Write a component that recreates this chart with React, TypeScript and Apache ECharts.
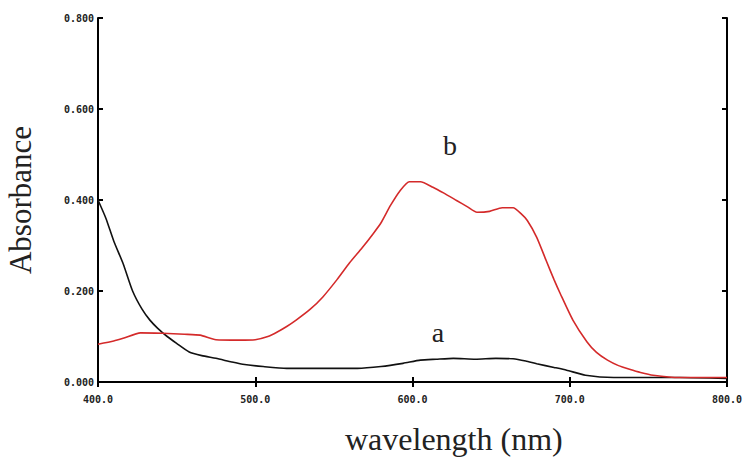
import React, { useEffect, useRef } from "react";
import * as echarts from "echarts";

const xTicks = [400, 500, 600, 700, 800];
const yTicks = [0, 0.2, 0.4, 0.6, 0.8];

const waveA = [400, 405, 410, 416, 422, 428, 433, 438, 444, 450, 458, 466, 475, 485, 492, 505, 520, 540, 565, 580, 594, 605, 615, 626, 640, 653, 664, 672, 679, 690, 698, 710, 728, 770, 800];
const absA = [0.400, 0.36, 0.31, 0.26, 0.20, 0.16, 0.136, 0.118, 0.100, 0.085, 0.066, 0.058, 0.052, 0.044, 0.039, 0.034, 0.030, 0.030, 0.030, 0.034, 0.041, 0.048, 0.050, 0.052, 0.050, 0.052, 0.051, 0.046, 0.040, 0.032, 0.026, 0.015, 0.010, 0.010, 0.008];

const waveB = [400, 410, 416, 427, 441, 455, 465, 475, 490, 500, 508, 514, 520, 526, 535, 543, 552, 560, 568, 575, 580, 586, 592, 598, 605, 613, 620, 628, 635, 641, 649, 657, 664, 669, 673, 679, 685, 690, 694, 702, 711, 717, 724, 731, 738, 745, 753, 770, 800];
const absB = [0.083, 0.090, 0.096, 0.108, 0.107, 0.105, 0.103, 0.093, 0.092, 0.093, 0.100, 0.110, 0.122, 0.136, 0.160, 0.187, 0.225, 0.262, 0.295, 0.326, 0.350, 0.388, 0.420, 0.440, 0.440, 0.428, 0.415, 0.399, 0.385, 0.373, 0.375, 0.383, 0.383, 0.370, 0.355, 0.318, 0.267, 0.225, 0.194, 0.136, 0.088, 0.065, 0.048, 0.036, 0.028, 0.021, 0.015, 0.010, 0.010];

const xTitle = "wavelength (nm)";
const yTitle = "Absorbance";
const labelA = "a";
const labelB = "b";

export default function App() {
  const ref = useRef<HTMLDivElement>(null);
  useEffect(() => {
    if (!ref.current) return;
    const chart = echarts.init(ref.current, undefined, { renderer: "svg" });
    const serif = "'Liberation Serif', 'Times New Roman', serif";
    const tickFont = {
      fontFamily: "'DejaVu Sans Mono', monospace",
      fontSize: 10,
      fontWeight: "bold" as const,
      color: "#222",
    };
    const axisLine = { show: true, lineStyle: { color: "#000", width: 2 } };
    const axisTick = { show: true, inside: true, length: 5, lineStyle: { color: "#000", width: 2 } };
    chart.setOption({
      animation: false,
      backgroundColor: "#fff",
      grid: { left: 98, right: 24, top: 18, bottom: 86, containLabel: false, outerBoundsMode: "none" },
      xAxis: [
        {
          type: "value",
          min: xTicks[0],
          max: xTicks[xTicks.length - 1],
          interval: 100,
          axisLine,
          axisTick,
          splitLine: { show: false },
          axisLabel: { ...tickFont, margin: 12, formatter: (v: number) => v.toFixed(1) },
        },
        {
          type: "value",
          position: "top",
          min: xTicks[0],
          max: xTicks[xTicks.length - 1],
          interval: 100,
          axisLine,
          axisTick,
          splitLine: { show: false },
          axisLabel: { show: false },
        },
      ],
      yAxis: [
        {
          type: "value",
          min: yTicks[0],
          max: yTicks[yTicks.length - 1],
          interval: 0.2,
          axisLine,
          axisTick,
          splitLine: { show: false },
          axisLabel: { ...tickFont, margin: 4, formatter: (v: number) => v.toFixed(3) },
          name: yTitle,
          nameLocation: "middle",
          nameGap: 62,
          nameRotate: 90,
          nameTextStyle: { fontFamily: serif, fontSize: 31, color: "#222" },
        },
        {
          type: "value",
          position: "right",
          min: yTicks[0],
          max: yTicks[yTicks.length - 1],
          interval: 0.2,
          axisLine,
          axisTick,
          splitLine: { show: false },
          axisLabel: { show: false },
        },
      ],
      series: [
        {
          name: labelA,
          type: "line",
          data: waveA.map((w, i) => [w, absA[i]]),
          showSymbol: false,
          smooth: 0.2,
          lineStyle: { color: "#111", width: 1.6 },
        },
        {
          name: labelB,
          type: "line",
          data: waveB.map((w, i) => [w, absB[i]]),
          showSymbol: false,
          smooth: 0.2,
          lineStyle: { color: "#d42a2a", width: 1.6 },
        },
      ],
      graphic: [
        {
          type: "text",
          left: 345,
          top: 423,
          style: { text: xTitle, font: `32px ${serif}`, fill: "#222" },
        },
        {
          type: "text",
          x: 450,
          y: 145,
          style: { text: labelB, font: `28px ${serif}`, fill: "#222", align: "center", verticalAlign: "middle" },
        },
        {
          type: "text",
          x: 438,
          y: 332,
          style: { text: labelA, font: `28px ${serif}`, fill: "#222", align: "center", verticalAlign: "middle" },
        },
      ],
    });
    return () => chart.dispose();
  }, []);
  return <div ref={ref} style={{ width: 751, height: 468, position: "absolute", left: 0, top: 0 }} />;
}
